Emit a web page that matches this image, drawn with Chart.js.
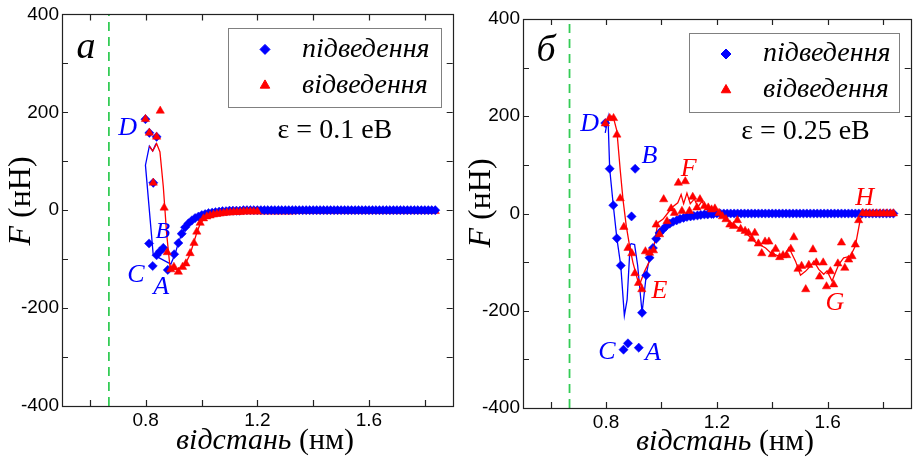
<!DOCTYPE html>
<html>
<head>
<meta charset="utf-8">
<script src="https://cdn.jsdelivr.net/npm/chart.js@4.4.1/dist/chart.umd.min.js"></script>
<style>
  html, body { margin: 0; padding: 0; background: #fff; }
  #wrap { position: relative; width: 916px; height: 458px; }
  .panel { position: absolute; top: 0; width: 458px; height: 458px; }
</style>
</head>
<body>
<div id="wrap">
  <div class="panel" style="left:0"><canvas id="chartA" width="458" height="458"></canvas></div>
  <div class="panel" style="left:458px"><canvas id="chartB" width="458" height="458"></canvas></div>
</div>
<script>
// ---- axes ----
const xTickValues = [0.6, 0.8, 1.0, 1.2, 1.4, 1.6, 1.8];
const xTickLabels = [0.8, 1.2, 1.6];
const yTickValues = [-400, -300, -200, -100, 0, 100, 200, 300, 400];
const yTickLabels = [-400, -200, 0, 200, 400];
const wallX = 0.668;   // green dashed line

// flat part of all curves, F ~ 0
const tailDist = [1.2125, 1.225, 1.2375, 1.25, 1.2625, 1.275, 1.2875, 1.3, 1.3125, 1.325, 1.3375, 1.35,
  1.3625, 1.375, 1.3875, 1.4, 1.4125, 1.425, 1.4375, 1.45, 1.4625, 1.475, 1.4875, 1.5, 1.5125, 1.525,
  1.5375, 1.55, 1.5625, 1.575, 1.5875, 1.6, 1.6125, 1.625, 1.6375, 1.65, 1.6625, 1.675, 1.6875, 1.7,
  1.7125, 1.725, 1.7375, 1.75, 1.7625, 1.775, 1.7875, 1.8, 1.8125, 1.825, 1.8375];
const tailForce = [0, 0, 0, 0, 0, 0, 0, 0, 0, 0, 0, 0, 0, 0, 0, 0, 0, 0, 0, 0, 0, 0, 0, 0, 0, 0,
  0, 0, 0, 0, 0, 0, 0, 0, 0, 0, 0, 0, 0, 0, 0, 0, 0, 0, 0, 0, 0, 0, 0, 0, 0];
// retraction in panel a sits a hair below zero on the flat part
const aRetractTailF = [-3, -3, -3, -3, -3, -3, -3, -3, -3, -3, -2, -2, -2, -2, -2, -2, -2, -2, -2, -2,
  -2, -2, -2, -2, -2, -2, -2, -2, -2, -2, -2, -2, -2, -2, -2, -2, -2, -2, -2, -2, -2, -2, -2, -2, -2,
  -2, -2, -2, -2, -2, -2];

// ---- panel a (eps = 0.1 eV) ----
const aApproachX = [0.799, 0.813, 0.827, 0.839, 0.812, 0.825, 0.839, 0.851, 0.863, 0.879, 0.902, 0.917,
  0.929, 0.941, 0.953, 0.965, 0.977, 0.989, 1.001, 1.013, 1.025, 1.038, 1.05, 1.063, 1.075, 1.088, 1.1,
  1.1125, 1.125, 1.1375, 1.15, 1.1625, 1.175, 1.1875, 1.2];
const aApproachF = [186, 158, 56, 150, -68, -114, -92, -84, -77, -122, -90, -67,
  -48, -35, -27, -21, -16, -13, -10, -8, -6, -5, -4, -3, -2, -2, -1,
  -1, -1, -1, 0, 0, 0, 0, 0];
const aApproachLineX = [0.837, 0.825, 0.813, 0.799, 0.827, 0.84, 0.86, 0.88, 0.89, 0.905, 0.917, 0.929,
  0.941, 0.953, 0.965, 0.977, 0.989, 1.001, 1.025, 1.05, 1.075, 1.1, 1.15, 1.2];
const aApproachLineF = [136, 121, 131, 92, -92, -95, -101, -107, -110, -90, -67, -48,
  -35, -27, -21, -16, -13, -10, -6, -4, -2, -1, 0, 0];
const aRetractX = [0.799, 0.813, 0.839, 0.827, 0.852, 0.866, 0.877, 0.89, 0.901, 0.917, 0.932, 0.944,
  0.959, 0.973, 0.983, 0.995, 1.007, 1.019, 1.031, 1.043, 1.055, 1.067, 1.079, 1.091, 1.103, 1.115,
  1.127, 1.139, 1.151, 1.163, 1.175, 1.187, 1.2];
const aRetractF = [186, 158, 150, 56, 203, 5, -86, -121, -116, -126, -116, -109,
  -88, -67, -44, -26, -17, -13, -11, -9, -8, -7, -6, -5, -5, -4,
  -4, -4, -3, -3, -3, -3, -3];
const aRetractLineX = [0.813, 0.825, 0.839, 0.851, 0.863, 0.875, 0.887, 0.899, 0.911, 0.923, 0.935, 0.947,
  0.959, 0.971, 0.983, 0.995, 1.007, 1.019, 1.031, 1.055, 1.079, 1.103, 1.127, 1.151, 1.175, 1.2];
const aRetractLineF = [131, 121, 136, 119, 48, -48, -116, -120, -122, -118, -112, -104,
  -90, -68, -46, -28, -19, -14, -11, -8, -6, -5, -4, -3, -3, -3];

// ---- panel б (eps = 0.25 eV) ----
const bApproachX = [0.797, 0.813, 0.826, 0.839, 0.853, 0.863, 0.879, 0.892, 0.905, 0.918, 0.93, 0.945,
  0.957, 0.969, 0.981, 0.993, 1.005, 1.017, 1.03, 1.042, 1.055, 1.067, 1.08, 1.092, 1.105, 1.117, 1.13,
  1.142, 1.155, 1.167, 1.18, 1.1875, 1.2];
const bApproachF = [186, 92, 17, -51, -107, -280, -267, -6, 92, -276, -204, -127,
  -91, -71, -52, -40, -33, -26, -21, -17, -14, -11, -9, -7, -6, -5, -4,
  -3, -2, -2, -1, -1, 0];
const bApproachLineX = [0.797, 0.807, 0.813, 0.826, 0.839, 0.853, 0.866, 0.876, 0.887, 0.891, 0.903, 0.914,
  0.93, 0.945, 0.957, 0.969, 0.981, 0.993, 1.005, 1.017, 1.03, 1.042, 1.055, 1.08, 1.105, 1.13, 1.155, 1.18, 1.2];
const bApproachLineF = [166, 197, 92, 17, -51, -107, -210, -177, -64, -62, -64, -107,
  -204, -127, -91, -71, -52, -40, -33, -26, -21, -17, -14, -9, -6, -4, -2, -1, 0];
const bRetractX = [0.797, 0.813, 0.827, 0.839, 0.851, 0.864, 0.879, 0.893, 0.904, 0.917, 0.929, 0.942,
  0.957, 0.971, 0.981, 0.993, 1.008, 1.02, 1.035, 1.047, 1.061, 1.074, 1.086, 1.101, 1.113, 1.128,
  1.139, 1.155, 1.169, 1.181, 1.193, 1.208, 1.22, 1.233, 1.247, 1.26, 1.274, 1.286, 1.302, 1.314,
  1.326, 1.337, 1.35, 1.362, 1.374, 1.388, 1.4, 1.412, 1.427, 1.439, 1.452, 1.467, 1.478, 1.493,
  1.506, 1.521, 1.532, 1.547, 1.559, 1.571, 1.584, 1.596, 1.61, 1.622, 1.637, 1.65, 1.662, 1.676,
  1.688, 1.7, 1.712, 1.727, 1.74, 1.7525, 1.765, 1.7775, 1.79, 1.8025, 1.815, 1.8275, 1.8375];
const bRetractF = [185, 196, 196, 162, 31, -28, -71, -82, -123, -143, -156, -78,
  -81, -76, -23, -43, 29, -16, 10, 1, 63, 5, 66, 5, 34, 12,
  29, 15, 12, 8, 10, 1, -6, -12, -23, -26, -14, -32, -36, -40,
  -52, -40, -62, -82, -58, -58, -84, -73, -90, -86, -86, -73, -49, -114,
  -108, -156, -106, -74, -101, -130, -101, -150, -119, -146, -103, -60, -112, -95,
  -88, -64, -14, 1, 0, 0, 0, 0, 0, 0, 0, 0, 0];
const bRetractLineX = [0.797, 0.819, 0.827, 0.839, 0.851, 0.861, 0.873, 0.885, 0.897, 0.915, 0.921, 0.939,
  0.957, 0.975, 0.987, 1.005, 1.023, 1.041, 1.059, 1.071, 1.08, 1.092, 1.104, 1.119, 1.131, 1.146,
  1.161, 1.185, 1.203, 1.233, 1.269, 1.305, 1.341, 1.376, 1.395, 1.43, 1.442, 1.46, 1.484, 1.502,
  1.52, 1.538, 1.55, 1.568, 1.586, 1.598, 1.616, 1.64, 1.658, 1.682, 1.7, 1.718, 1.73, 1.7775, 1.8375];
const bRetractLineF = [185, 200, 196, 170, 90, 29, -26, -67, -101, -139, -146, -119,
  -98, -60, -19, -12, 1, 14, 22, 39, 20, 42, 20, 30, 13, 25,
  12, 10, 1, -12, -26, -40, -60, -71, -81, -89, -88, -70, -98, -127,
  -119, -108, -98, -115, -125, -118, -139, -105, -91, -88, -67, -12, 1, 0, 0];

const BLUE = '#0000ff';
const RED = '#ff0000';
const sans = '"Liberation Sans", Arial, sans-serif';
const serif = '"Liberation Serif", "Times New Roman", serif';

function pts(xs, ys) {
  return xs.map((x, i) => ({ x, y: ys[i] }));
}

const decor = {
  id: 'decor',
  afterDraw(chart, args, o) {
    const { ctx, chartArea: a, scales: { x, y } } = chart;
    ctx.save();

    // frame + inward ticks on all four sides
    ctx.strokeStyle = '#222';
    ctx.lineWidth = 1.2;
    ctx.strokeRect(Math.round(a.left) + 0.5, Math.round(a.top) + 0.5,
      Math.round(a.right - a.left), Math.round(a.bottom - a.top));
    ctx.beginPath();
    x.ticks.forEach(t => {
      const px = Math.round(x.getPixelForValue(t.value)) + 0.5;
      ctx.moveTo(px, a.bottom); ctx.lineTo(px, a.bottom - 6);
      ctx.moveTo(px, a.top); ctx.lineTo(px, a.top + 6);
    });
    y.ticks.forEach(t => {
      const py = Math.round(y.getPixelForValue(t.value)) + 0.5;
      ctx.moveTo(a.left, py); ctx.lineTo(a.left + 6, py);
      ctx.moveTo(a.right, py); ctx.lineTo(a.right - 6, py);
    });
    ctx.stroke();

    // legend box
    const bx = a.left + 166, by = a.top + 14, bw = a.right - 12 - bx, bh = 79;
    ctx.fillStyle = '#fff';
    ctx.fillRect(bx, by, bw, bh);
    ctx.strokeStyle = '#808080';
    ctx.lineWidth = 1;
    ctx.strokeRect(Math.round(bx) + 0.5, Math.round(by) + 0.5, Math.round(bw), Math.round(bh));
    ctx.fillStyle = BLUE; ctx.strokeStyle = BLUE;
    Chart.helpers.drawPoint(ctx, { pointStyle: 'rectRot', radius: 5, borderWidth: 1 }, bx + 37, by + 21);
    ctx.fillStyle = RED; ctx.strokeStyle = RED;
    Chart.helpers.drawPoint(ctx, { pointStyle: 'triangle', radius: 5.5, borderWidth: 1 }, bx + 37, by + 57);
    ctx.fillStyle = '#000';
    ctx.font = 'italic 28px ' + serif;
    ctx.textAlign = 'left';
    ctx.textBaseline = 'middle';
    ctx.fillText('підведення', bx + 74, by + 21);
    ctx.fillText('відведення', bx + 74, by + 57);

    // annotations placed in data coordinates
    ctx.textAlign = 'center';
    o.notes.forEach(n => {
      ctx.fillStyle = n.color || '#000';
      ctx.font = (n.italic === false ? '' : 'italic ') + (n.size || 26) + 'px ' + serif;
      ctx.fillText(n.text, x.getPixelForValue(n.x), y.getPixelForValue(n.y));
    });

    // axis titles
    ctx.fillStyle = '#000';
    const drawMixed = (parts, cx, cy) => {
      let w = 0;
      parts.forEach(p => { ctx.font = p.font; w += ctx.measureText(p.t).width; });
      let cur = cx - w / 2;
      ctx.textAlign = 'left';
      parts.forEach(p => {
        ctx.font = p.font;
        ctx.fillText(p.t, cur, cy);
        cur += ctx.measureText(p.t).width;
      });
    };
    drawMixed([{ t: 'відстань', font: 'italic 30px ' + serif }, { t: ' (нм)', font: '30px ' + serif }],
      o.xTitle[0], o.xTitle[1]);
    ctx.save();
    ctx.translate(o.yTitle[0], o.yTitle[1]);
    ctx.rotate(-Math.PI / 2);
    drawMixed([{ t: 'F', font: 'italic 32px ' + serif }, { t: ' (нН)', font: '32px ' + serif }], 0, 0);
    ctx.restore();

    ctx.restore();
  }
};

function makePanel(id, d) {
  const datasets = [
    { data: pts(d.rx, d.rf), showLine: false, pointStyle: 'triangle', pointRadius: 4.8,
      backgroundColor: RED, borderColor: RED, pointBorderWidth: 0.5, order: 1 },
    { data: pts(d.ax, d.af), showLine: false, pointStyle: 'rectRot', pointRadius: 4.6,
      backgroundColor: BLUE, borderColor: BLUE, pointBorderWidth: 0.5, order: 2 },
    { data: pts(d.rlx, d.rlf), showLine: true, pointRadius: 0, borderColor: RED, borderWidth: 1.3, order: 4 },
    { data: pts(d.alx, d.alf), showLine: true, pointRadius: 0, borderColor: BLUE, borderWidth: 1.3, order: 5 },
    { data: [{ x: wallX, y: -400 }, { x: wallX, y: 400 }], showLine: true, pointRadius: 0,
      borderColor: '#33cc55', borderWidth: 1.8, borderDash: [9, 6], order: 6 }
  ];
  if (d.rtx) {
    // flat retraction tail, drawn underneath the approach markers
    datasets.push({ data: pts(d.rtx, d.rtf), showLine: false, pointStyle: 'triangle', pointRadius: 4.8,
      backgroundColor: RED, borderColor: RED, pointBorderWidth: 0.5, order: 3 });
  }
  return new Chart(document.getElementById(id), {
    type: 'scatter',
    data: { datasets },
    plugins: [decor],
    options: {
      responsive: false,
      animation: false,
      layout: { padding: { top: d.pad.top, right: d.pad.right, left: 0, bottom: 0 } },
      plugins: {
        legend: { display: false },
        tooltip: { enabled: false },
        decor: { notes: d.notes, xTitle: d.xTitle, yTitle: d.yTitle }
      },
      scales: {
        x: {
          type: 'linear', min: 0.5, max: 1.9,
          afterBuildTicks: s => { s.ticks = xTickValues.map(v => ({ value: v })); },
          afterFit: s => { s.height = d.pad.xh; },
          grid: { display: false, drawTicks: false }, border: { display: false },
          ticks: {
            autoSkip: false, maxRotation: 0, padding: 3, color: '#000',
            font: { family: sans, size: 19 },
            callback: v => xTickLabels.includes(Math.round(v * 10) / 10) ? v.toFixed(1) : ''
          }
        },
        y: {
          type: 'linear', min: -400, max: 400,
          afterBuildTicks: s => { s.ticks = yTickValues.map(v => ({ value: v })); },
          afterFit: s => { s.width = d.pad.yw; },
          grid: { display: false, drawTicks: false }, border: { display: false },
          ticks: {
            autoSkip: false, padding: 3, color: '#000',
            font: { family: sans, size: 19 },
            callback: v => yTickLabels.includes(v) ? String(v) : ''
          }
        }
      }
    }
  });
}

function drawAll() {
  makePanel('chartA', {
    ax: aApproachX.concat(tailDist), af: aApproachF.concat(tailForce),
    alx: aApproachLineX.concat(tailDist), alf: aApproachLineF.concat(tailForce),
    rx: aRetractX, rf: aRetractF,
    rtx: tailDist, rtf: aRetractTailF,
    rlx: aRetractLineX.concat(tailDist), rlf: aRetractLineF.concat(aRetractTailF),
    pad: { top: 14, right: 4, xh: 52, yw: 62 },
    xTitle: [265, 441], yTitle: [22, 201],
    notes: [
      { text: 'а', x: 0.586, y: 331, size: 38 },
      { text: 'D', x: 0.735, y: 168, color: BLUE },
      { text: 'B', x: 0.861, y: -43, color: BLUE, size: 24 },
      { text: 'C', x: 0.765, y: -133, color: BLUE },
      { text: 'A', x: 0.855, y: -158, color: BLUE },
      { text: 'ε = 0.1 еВ', x: 1.478, y: 163, italic: false, size: 28 }
    ]
  });

  makePanel('chartB', {
    ax: bApproachX.concat(tailDist), af: bApproachF.concat(tailForce),
    alx: bApproachLineX.concat(tailDist), alf: bApproachLineF.concat(tailForce),
    rx: bRetractX, rf: bRetractF,
    rlx: bRetractLineX, rlf: bRetractLineF,
    pad: { top: 19, right: 3, xh: 50, yw: 65 },
    xTitle: [267, 442], yTitle: [24, 203],
    notes: [
      { text: 'б', x: 0.583, y: 334, size: 38 },
      { text: 'D', x: 0.741, y: 183, color: BLUE },
      { text: 'B', x: 0.957, y: 118, color: BLUE },
      { text: 'F', x: 1.098, y: 91, color: RED },
      { text: 'E', x: 0.993, y: -160, color: RED },
      { text: 'C', x: 0.803, y: -285, color: BLUE },
      { text: 'A', x: 0.969, y: -288, color: BLUE },
      { text: 'G', x: 1.626, y: -185, color: RED },
      { text: 'H', x: 1.734, y: 32, color: RED },
      { text: 'ε = 0.25 еВ', x: 1.52, y: 169, italic: false, size: 28 }
    ]
  });
}

// make sure the serif faces are ready before the canvas text is drawn
Promise.all([
  document.fonts.load('italic 28px "Liberation Serif"', 'підведення ABCD'),
  document.fonts.load('28px "Liberation Serif"', 'ε = 0.1 еВ (нм)'),
  document.fonts.load('19px "Liberation Sans"', '0.8 -400')
]).catch(() => {}).then(drawAll);
</script>
</body>
</html>
